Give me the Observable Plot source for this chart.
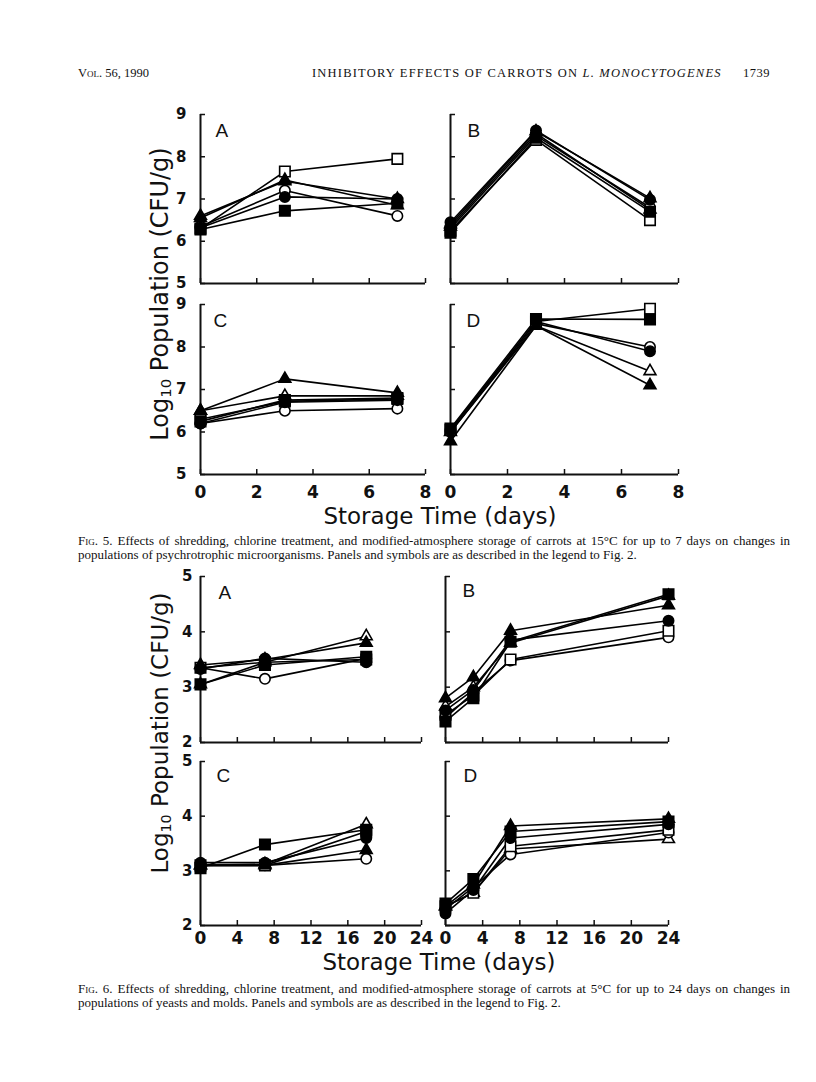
<!DOCTYPE html>
<html><head><meta charset="utf-8">
<script src="https://cdn.jsdelivr.net/npm/d3@7"></script>
<script src="https://cdn.jsdelivr.net/npm/@observablehq/plot@0.6"></script>
<style>
body{margin:0;background:#fff;}
#page{position:relative;width:816px;height:1082px;overflow:hidden;background:#fff;color:#111;}
.abs{position:absolute;white-space:nowrap;}
.serif{font-family:"Liberation Serif","Times New Roman",serif;font-size:12.5px;line-height:14px;}
.capfont{font-size:13px;}
.sc{font-variant:small-caps;}
.cap{text-align:justify;text-align-last:justify;width:712px;}
.cap2{text-align:left;}
.xtitle{font-family:"DejaVu Sans",sans-serif;font-size:23px;line-height:28px;transform:translateX(-50%);}
.ytitle{font-family:"DejaVu Sans",sans-serif;line-height:28px;transform:translate(-50%,-50%) rotate(-90deg);}
.ytitle sub{font-size:0.62em;vertical-align:-0.25em;}
</style></head><body><div id="page"></div>
<script>
// ---------- data ----------
const seriesNames = ["open square","filled square","open circle","filled circle","open triangle","filled triangle"];
const seriesSymbols = ["square","square","circle","circle","triangle","triangle"];
const seriesOpen = [true,false,true,false,true,false];
const drawOrder = [4,2,0,3,5,1];

const fig5Days = [0, 3, 7];
const fig6DaysAC = [0, 7, 18];
const fig6DaysBD = [0, 3, 7, 24];

const fig5XTicks = [0, 2, 4, 6, 8];
const fig5YTicks = [5, 6, 7, 8, 9];
const fig6XTicks = [0, 4, 8, 12, 16, 20, 24];
const fig6YTicks = [2, 3, 4, 5];

// values in series order: open sq, filled sq, open circ, filled circ, open tri, filled tri
const fig5A = [[6.30,7.65,7.95],[6.28,6.72,6.90],[6.35,7.20,6.60],[6.32,7.05,7.00],[6.60,7.42,7.00],[6.55,7.45,6.85]];
const fig5B = [[6.25,8.40,6.50],[6.20,8.45,6.70],[6.30,8.50,6.80],[6.45,8.62,6.98],[6.35,8.55,6.75],[6.40,8.60,7.02]];
const fig5C = [[6.30,6.72,6.78],[6.25,6.75,6.80],[6.20,6.50,6.55],[6.20,6.70,6.75],[6.50,6.85,6.85],[6.50,7.25,6.92]];
const fig5D = [[6.05,8.60,8.90],[6.08,8.66,8.65],[6.00,8.55,8.00],[6.05,8.60,7.90],[6.00,8.50,7.43],[5.78,8.50,7.10]];

const fig6A = [[3.35,3.45,3.50],[3.05,3.40,3.55],[3.35,3.15,3.52],[3.33,3.52,3.45],[3.05,3.45,3.92],[3.40,3.50,3.80]];
const fig6B = [[2.50,2.85,3.50,4.02],[2.38,2.80,3.82,4.68],[2.45,2.90,3.48,3.90],[2.58,2.95,3.85,4.20],[2.65,3.00,3.80,4.65],[2.80,3.18,4.02,4.48]];
const fig6C = [[3.10,3.10,3.72],[3.05,3.48,3.75],[3.10,3.10,3.22],[3.15,3.15,3.60],[3.10,3.12,3.85],[3.10,3.10,3.38]];
const fig6D = [[2.35,2.60,3.45,3.75],[2.40,2.85,3.72,3.90],[2.30,2.70,3.30,3.70],[2.22,2.65,3.60,3.85],[2.35,2.60,3.40,3.58],[2.35,2.75,3.82,3.95]];

const headerLeft = "Vol. 56, 1990";
const headerTitle = "INHIBITORY EFFECTS OF CARROTS ON ";
const headerItalic = "L. MONOCYTOGENES";
const headerPage = "1739";
const yTitle = ["Log", "10", " Population (CFU/g)"];
const xTitle = "Storage Time (days)";
const fig5Cap = ["Fig. 5. Effects of shredding, chlorine treatment, and modified-atmosphere storage of carrots at 15°C for up to 7 days on changes in",
                 "populations of psychrotrophic microorganisms. Panels and symbols are as described in the legend to Fig. 2."];
const fig6Cap = ["Fig. 6. Effects of shredding, chlorine treatment, and modified-atmosphere storage of carrots at 5°C for up to 24 days on changes in",
                 "populations of yeasts and molds. Panels and symbols are as described in the legend to Fig. 2."];

// ---------- drawing ----------
const page = document.getElementById("page");
function addDiv(cls, html, left, top, extra) {
  const d = document.createElement("div");
  d.className = "abs " + cls;
  d.innerHTML = html;
  d.style.left = left + "px"; d.style.top = top + "px";
  if (extra) Object.assign(d.style, extra);
  page.appendChild(d);
  return d;
}

const symR = {circle: 5.2, square: 5.9, triangle: 4.4};

function panel(o) {
  const mL = 50, mR = 20, mT = 12, mB = 30;
  const rows = [];
  o.values.forEach((vals, s) => vals.forEach((v, i) => rows.push({series: seriesNames[s], s, day: o.days[i], value: v})));
  const dots = drawOrder.map(s => Plot.dot(rows.filter(r => r.s === s), {
    x: "day", y: "value", symbol: seriesSymbols[s], r: symR[seriesSymbols[s]],
    fill: seriesOpen[s] ? "white" : "black", stroke: "black", strokeWidth: 1.6
  }));
  const svg = Plot.plot({
    width: o.w + mL + mR, height: o.h + mT + mB,
    marginLeft: mL, marginRight: mR, marginTop: mT, marginBottom: mB,
    x: {domain: o.xDomain}, y: {domain: o.yDomain},
    style: {background: "none", overflow: "visible", fontFamily: "DejaVu Sans", color: "#111"},
    marks: [
      Plot.ruleX([o.xDomain[0]], {strokeWidth: 2}),
      Plot.ruleY([o.yDomain[0]], {strokeWidth: 2}),
      Plot.axisX(o.xTicks, {tickSize: -5, strokeWidth: 1.5, tickPadding: o.xPad, label: null,
        fontSize: 17, fontWeight: "bold", tickFormat: o.showX ? (d => String(d)) : (() => "")}),
      Plot.axisY(o.yTicks, {tickSize: -5, strokeWidth: 1.5, tickPadding: o.yPad, label: null,
        fontSize: 15, fontWeight: "bold", tickFormat: o.showY ? (d => String(d)) : (() => "")}),
      Plot.line(rows, {x: "day", y: "value", z: "series", stroke: "black", strokeWidth: 1.6}),
      ...dots,
      Plot.text([o.letter], {frameAnchor: "top-left", textAnchor: "start", lineAnchor: "top",
        dx: o.ldx, dy: o.ldy, fontSize: 19, fontFamily: "Liberation Sans"})
    ]
  });
  const wrap = document.createElement("div");
  wrap.className = "abs";
  wrap.style.left = (o.left - mL) + "px";
  wrap.style.top = (o.top - mT) + "px";
  wrap.appendChild(svg);
  page.appendChild(wrap);
}

// Figure 5
const f5 = {xDomain: [0, 8], yDomain: [5, 9], xTicks: fig5XTicks, yTicks: fig5YTicks, days: fig5Days, xPad: 16, yPad: 19};
panel({...f5, left: 200, top: 114, w: 225, h: 169, values: fig5A, letter: "A", ldx: 15, ldy: 9, showX: false, showY: true});
panel({...f5, left: 450, top: 114, w: 228, h: 169, values: fig5B, letter: "B", ldx: 17, ldy: 9, showX: false, showY: false});
panel({...f5, left: 200, top: 304, w: 225, h: 170, values: fig5C, letter: "C", ldx: 13, ldy: 9, showX: true, showY: true});
panel({...f5, left: 450, top: 304, w: 228, h: 170, values: fig5D, letter: "D", ldx: 16, ldy: 9, showX: true, showY: false});

// Figure 6
const f6 = {xDomain: [0, 24], yDomain: [2, 5], xTicks: fig6XTicks, yTicks: fig6YTicks, xPad: 11, yPad: 13};
panel({...f6, left: 200, top: 576, w: 221, h: 166, days: fig6DaysAC, values: fig6A, letter: "A", ldx: 18, ldy: 9, showX: false, showY: true});
panel({...f6, left: 445, top: 576, w: 223, h: 166, days: fig6DaysBD, values: fig6B, letter: "B", ldx: 17, ldy: 7, showX: false, showY: false});
panel({...f6, left: 200, top: 761, w: 221, h: 164, days: fig6DaysAC, values: fig6C, letter: "C", ldx: 16, ldy: 7, showX: true, showY: true});
panel({...f6, left: 445, top: 761, w: 223, h: 164, days: fig6DaysBD, values: fig6D, letter: "D", ldx: 18, ldy: 7, showX: true, showY: false});

// header
addDiv("serif sc", headerLeft, 78, 66);
addDiv("serif", headerTitle + "<i>" + headerItalic + "</i>", 312, 66, {letterSpacing: "1.2px"});
addDiv("serif", headerPage, 743, 66, {letterSpacing: "0.5px"});

// axis titles
const yt = yTitle[0] + "<sub>" + yTitle[1] + "</sub>" + yTitle[2];
addDiv("ytitle", yt, 163, 294, {fontSize: "24px"});
addDiv("ytitle", yt, 163, 733, {fontSize: "23px"});
addDiv("xtitle", xTitle, 440, 502);
addDiv("xtitle", xTitle, 439, 948);

// captions
function caption(lines, top) {
  const l1 = addDiv("serif capfont cap", lines[0].replace(/^Fig\./, '<span class="sc">Fig.</span>'), 78, top);
  l1.style.whiteSpace = "normal";
  addDiv("serif capfont cap2", lines[1], 78, top + 14);
}
caption(fig5Cap, 534);
caption(fig6Cap, 982);
</script></body></html>
